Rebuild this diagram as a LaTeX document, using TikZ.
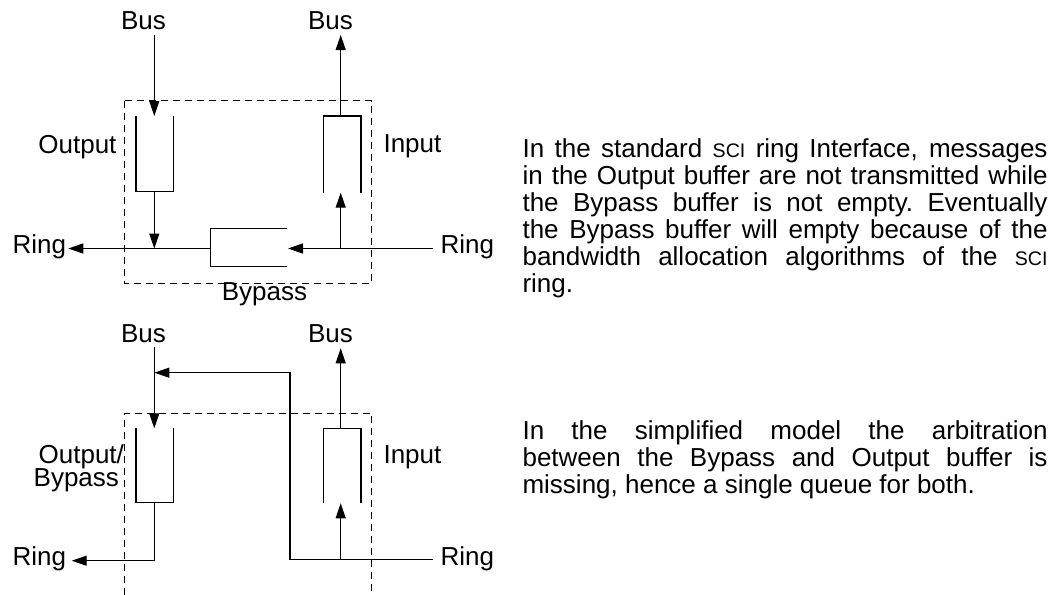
\documentclass[tikz,border=0pt]{standalone}
\usepackage{fontspec}
\setmainfont{Liberation Sans}
\usetikzlibrary{arrows.meta}
\newcommand\smallsci{{\fontsize{9.8pt}{10pt}\selectfont SCI}}
\begin{document}
\begin{tikzpicture}[x=0.5pt,y=-0.5pt,
  line width=0.55pt,
  lbl/.style={font=\fontsize{13pt}{15pt}\selectfont, inner sep=0pt},
  arr/.style={-{Triangle[length=7.5pt,width=5pt]}},
  dbox/.style={dash pattern=on 3.5pt off 2.5pt, line width=0.55pt},
  para/.style={inner sep=0pt, anchor=base west}]
\useasboundingbox (0,0) rectangle (1062,595);

% ---------------- top diagram ----------------
\node[lbl, anchor=base] (busL1) at (143.5,29) {Bus};
\node[lbl, anchor=base] (busR1) at (330.5,29) {Bus};
\node[lbl, anchor=base east] (out1) at (117,153) {Output};
\node[lbl, anchor=base west] (in1) at (383,152) {Input};
\node[lbl, anchor=base west] (ringL1) at (12,253) {Ring};
\node[lbl, anchor=base west] (ringR1) at (440,253) {Ring};
\node[lbl, anchor=base] (byp1) at (264.5,300) {Bypass};

\draw[dbox] (124.3,100.7) rectangle (371.7,283.3);

\coordinate (b1s) at (154.3,35);
\coordinate (o1t) at (154.3,116);
\coordinate (o1b) at (154.3,191.7);
\coordinate (j1)  at (154.3,248.5);
\coordinate (rl1) at (68.3,248.5);
\coordinate (bp1) at (210.7,248.5);
\coordinate (bpR) at (288,248.5);
\coordinate (rr1) at (433,248.5);
\coordinate (ji1) at (340.7,248.5);
\coordinate (i1b) at (340.7,192.7);
\coordinate (i1t) at (340.7,116);
\coordinate (b2e) at (340.7,35);

% output buffer
\draw (136,116) -- (136,191.7) -- (173.3,191.7) -- (173.3,116);
% input buffer
\draw (323.3,192.7) -- (323.3,116) -- (361,116) -- (361,192.7);
% bypass buffer
\draw (286.7,228.7) -- (210.7,228.7) -- (210.7,266.7) -- (286.7,266.7);

\draw[arr] (b1s) -- (o1t);
\draw[arr] (o1b) -- (j1);
\draw[arr] (bp1) -- (rl1);
\draw[arr] (rr1) -- (bpR);
\draw[arr] (ji1) -- (i1b);
\draw[arr] (i1t) -- (b2e);

% ---------------- bottom diagram ----------------
\node[lbl, anchor=base] (busL2) at (143.5,342) {Bus};
\node[lbl, anchor=base] (busR2) at (330.5,342) {Bus};
\node[lbl, anchor=base east] (out2a) at (124.5,463) {Output/};
\node[lbl, anchor=base east] (out2b) at (119.5,486) {Bypass};
\node[lbl, anchor=base west] (in2) at (383,463) {Input};
\node[lbl, anchor=base west] (ringL2) at (12,565) {Ring};
\node[lbl, anchor=base west] (ringR2) at (440,565) {Ring};

\draw[dbox] (124.3,595) -- (124.3,413.3) -- (371.7,413.3) -- (371.7,595);

\coordinate (b3s) at (154.3,346.7);
\coordinate (o2t) at (154.3,428.3);
\coordinate (lp)  at (154.3,372.7);
\coordinate (lpc) at (290,372.7);
\coordinate (lpb) at (290,559.3);
\coordinate (o2b) at (154.3,502.7);
\coordinate (o2c) at (154.3,560.7);
\coordinate (rl2) at (71.7,560.7);
\coordinate (rr2) at (433,559.3);
\coordinate (ji2) at (340.7,559.3);
\coordinate (i2b) at (340.7,503.3);
\coordinate (i2t) at (340.7,428.3);
\coordinate (b4e) at (340.7,348.3);

% output/bypass buffer
\draw (136,428.3) -- (136,502.7) -- (173.3,502.7) -- (173.3,428.3);
% input buffer
\draw (323.3,502.7) -- (323.3,428.3) -- (361,428.3) -- (361,502.7);

\draw[arr] (b3s) -- (o2t);
\draw[arr] (rr2) -- (lpb) -- (lpc) -- (lp);
\draw[arr] (o2b) -- (o2c) -- (rl2);
\draw[arr] (ji2) -- (i2b);
\draw[arr] (i2t) -- (b4e);

% ---------------- text ----------------
\node[para] (p1) at (522,157) {\parbox[t]{262.5pt}{\fontsize{13pt}{13.5pt}\selectfont
In the standard \smallsci{} ring Interface, messages\linebreak
in the Output buffer are not transmitted while\linebreak
the Bypass buffer is not empty.\ Eventually\linebreak
the Bypass buffer will empty because of the\linebreak
bandwidth allocation algorithms of the \smallsci\linebreak
ring.}};

\node[para] (p2) at (522,439) {\parbox[t]{262.5pt}{\fontsize{13pt}{13.5pt}\selectfont
In the simplified model the arbitration\linebreak
between the Bypass and Output buffer is\linebreak
missing, hence a single queue for both.}};
\end{tikzpicture}
\end{document}
